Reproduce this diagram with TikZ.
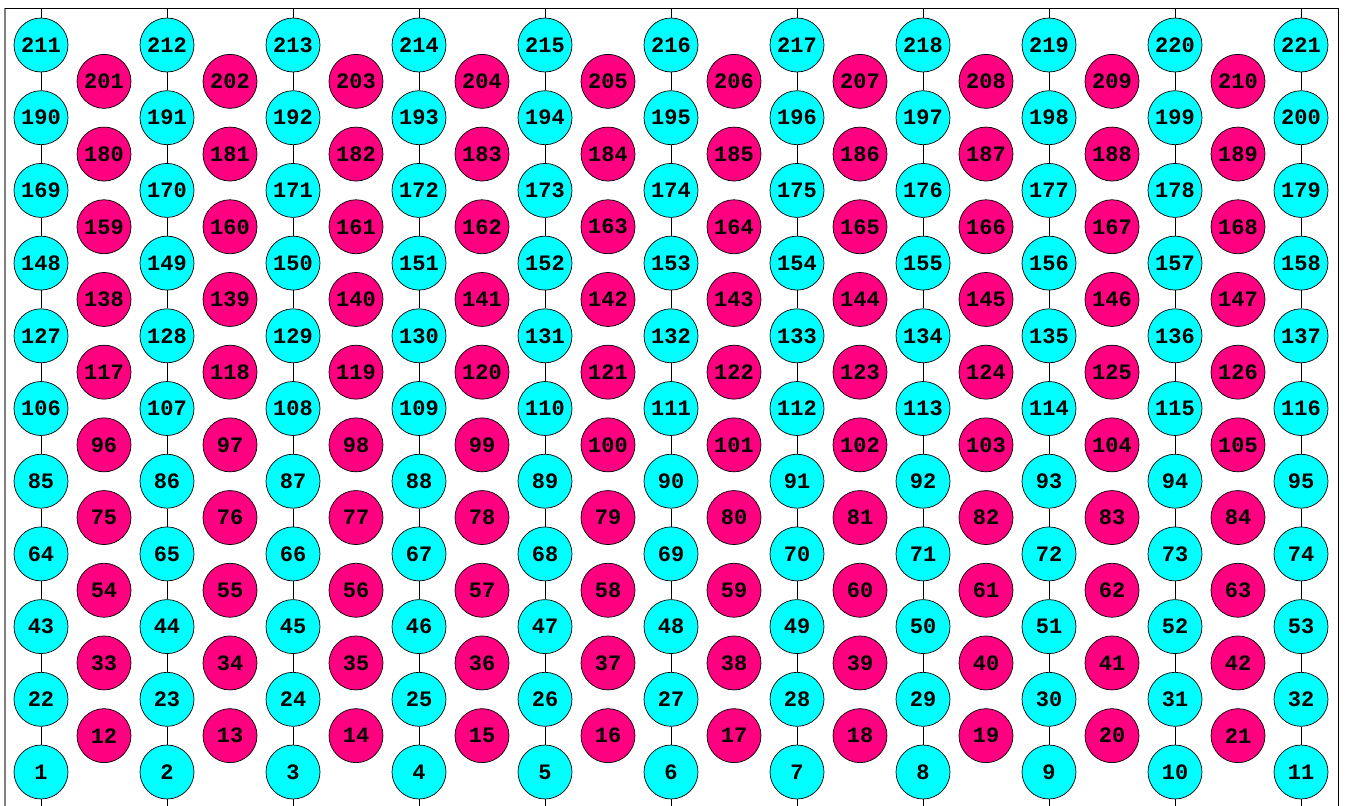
\documentclass[tikz,border=0pt]{standalone}
\usepackage{fontspec}
\setmainfont{Liberation Mono}
\definecolor{cy}{RGB}{0,255,255}
\definecolor{mg}{RGB}{255,0,128}
\begin{document}
\begin{tikzpicture}[x=1pt,y=-1pt,
  base/.style={circle,draw=black,line width=0.7pt,minimum size=54pt,inner sep=0pt,text=black,font=\fontsize{22}{22}\selectfont\bfseries},
  cnode/.style={base,fill=cy},
  mnode/.style={base,fill=mg},
  link/.style={draw=black,line width=0.7pt}]
\useasboundingbox (0,0) rectangle (1345,806);
\draw[gray,line width=1.6pt] (5,8) -- (5,806);
\draw[link] (5,8) -- (1338,8) -- (1338,806);
\foreach \r in {0,...,10}{
  \foreach \c in {0,...,10}{
    \pgfmathtruncatemacro\n{1+21*\r+\c}
    \node[cnode] (c\n) at ({41+126*\c},{772-72.7*\r}) {\n};
  }
}
\foreach \r in {0,...,9}{
  \foreach \c in {0,...,9}{
    \pgfmathtruncatemacro\n{12+21*\r+\c}
    \node[mnode] (m\n) at ({104+126*\c},{772-72.7*(\r+0.5)}) {\n};
  }
}
\foreach \c in {0,...,10}{
  \pgfmathtruncatemacro\t{211+\c}
  \pgfmathtruncatemacro\b{1+\c}
  \coordinate (top\c) at ({41+126*\c},8);
  \coordinate (bot\c) at ({41+126*\c},806);
  \draw[link] (top\c) -- (c\t);
  \draw[link] (c\b) -- (bot\c);
  \foreach \r in {0,...,9}{
    \pgfmathtruncatemacro\a{1+21*\r+\c}
    \pgfmathtruncatemacro\d{22+21*\r+\c}
    \draw[link] (c\a) -- (c\d);
  }
}
\end{tikzpicture}
\end{document}
